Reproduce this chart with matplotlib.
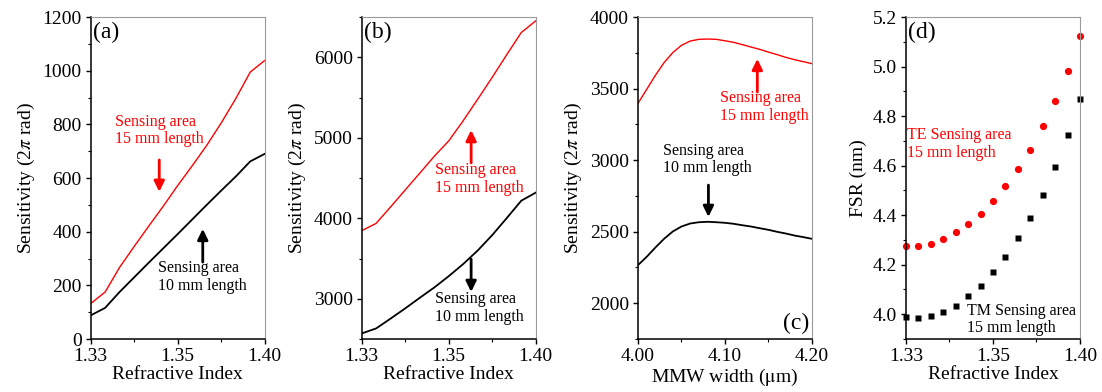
import matplotlib
matplotlib.use("Agg")
import matplotlib.pyplot as plt
from matplotlib.ticker import FixedLocator, MultipleLocator

# refractive index grid for panels (a) and (b)
n_ab = [1.3300, 1.3358, 1.3417, 1.3475, 1.3533, 1.3592, 1.3650,
        1.3708, 1.3767, 1.3825, 1.3883, 1.3942, 1.4000]
# (a) sensitivity, 2pi rad
sens_a_15 = [132, 175, 268, 345, 420, 495, 572, 645, 722, 805, 895, 995, 1038]
sens_a_10 = [88, 116, 176, 230, 284, 338, 391, 445, 500, 553, 605, 662, 690]
# (b) sensitivity, 2pi rad
sens_b_15 = [3845, 3936, 4143, 4351, 4558, 4770, 4960, 5210, 5480, 5750, 6029, 6307, 6452]
sens_b_10 = [2569, 2631, 2755, 2880, 3010, 3140, 3280, 3430, 3600, 3790, 4000, 4218, 4318]

# (c) MMW width (um)
mmw = [4.00, 4.01, 4.02, 4.03, 4.04, 4.05, 4.06, 4.07, 4.08, 4.09, 4.10,
       4.11, 4.12, 4.13, 4.14, 4.15, 4.16, 4.17, 4.18, 4.19, 4.20]
sens_c_15 = [3396, 3494, 3592, 3681, 3751, 3802, 3832, 3844, 3846, 3844, 3834,
             3823, 3807, 3790, 3774, 3755, 3737, 3718, 3702, 3688, 3674]
sens_c_10 = [2266, 2324, 2389, 2450, 2501, 2536, 2557, 2566, 2569, 2566, 2562,
             2555, 2545, 2536, 2524, 2513, 2499, 2487, 2473, 2462, 2450]

# (d) FSR (nm)
n_d = [1.330, 1.335, 1.340, 1.345, 1.350, 1.355, 1.360, 1.365,
       1.370, 1.375, 1.380, 1.385, 1.390, 1.395, 1.400]
fsr_te = [4.275, 4.275, 4.285, 4.302, 4.330, 4.364, 4.406, 4.459,
          4.517, 4.586, 4.665, 4.758, 4.862, 4.982, 5.122]
fsr_tm = [3.988, 3.984, 3.992, 4.008, 4.035, 4.072, 4.116, 4.170,
          4.232, 4.306, 4.389, 4.483, 4.596, 4.723, 4.868]

n_ticks = [1.33, 1.365, 1.40]
n_ticklabels = ['1.33', '1.35', '1.40']

plt.rcParams['font.family'] = ['Liberation Serif', 'DejaVu Serif']
plt.rcParams['mathtext.fontset'] = 'stix'
plt.rcParams['font.size'] = 14

fig = plt.figure(figsize=(11.02, 3.92), dpi=100)
lefts = [0.0823, 0.3282, 0.5789, 0.8221]
axs = [fig.add_axes([l, 0.1352, 0.1579, 0.8214]) for l in lefts]

red = '#ff0000'
ann = dict(fontsize=11.5, va='top', ha='left', linespacing=1.15)


def style(ax):
    for s in ['top', 'right']:
        ax.spines[s].set_color('#9a9a9a')
        ax.spines[s].set_linewidth(0.8)
    for s in ['left', 'bottom']:
        ax.spines[s].set_linewidth(1.1)
    ax.tick_params(which='major', direction='out', length=3.5, width=1, labelsize=14, pad=3)
    ax.tick_params(which='minor', direction='out', length=2, width=0.8)


def arrow(ax, x, y0, y1, color):
    ax.annotate('', xy=(x, y1), xytext=(x, y0), xycoords='axes fraction',
                arrowprops=dict(arrowstyle='-|>,head_length=0.45,head_width=0.22',
                                color=color, lw=2, shrinkA=0, shrinkB=0))


def n_axis(ax):
    ax.set_xlim(1.33, 1.40)
    ax.xaxis.set_major_locator(FixedLocator(n_ticks))
    ax.set_xticklabels(n_ticklabels)
    ax.xaxis.set_minor_locator(FixedLocator([1.3475, 1.3825]))
    ax.set_xlabel('Refractive Index', labelpad=1)


# (a)
ax = axs[0]
ax.plot(n_ab, sens_a_15, color=red, lw=1.0)
ax.plot(n_ab, sens_a_10, color='black', lw=1.3)
ax.set_ylim(0, 1200)
ax.yaxis.set_major_locator(MultipleLocator(200))
ax.yaxis.set_minor_locator(MultipleLocator(100))
n_axis(ax)
ax.set_ylabel(r'Sensitivity (2$\pi$ rad)')
ax.text(0.139, 0.70, 'Sensing area\n15 mm length', color=red, transform=ax.transAxes, **ann)
arrow(ax, 0.394, 0.556, 0.457, red)
arrow(ax, 0.644, 0.239, 0.342, 'black')
ax.text(0.386, 0.245, 'Sensing area\n10 mm length', color='black', transform=ax.transAxes, **ann)
ax.text(0.015, 0.985, '(a)', fontsize=17, transform=ax.transAxes, va='top', ha='left')
style(ax)

# (b)
ax = axs[1]
ax.plot(n_ab, sens_b_15, color=red, lw=1.0)
ax.plot(n_ab, sens_b_10, color='black', lw=1.3)
ax.set_ylim(2500, 6500)
ax.yaxis.set_major_locator(MultipleLocator(1000))
ax.yaxis.set_minor_locator(MultipleLocator(500))
n_axis(ax)
ax.set_ylabel(r'Sensitivity (2$\pi$ rad)')
ax.text(0.420, 0.55, 'Sensing area\n15 mm length', color=red, transform=ax.transAxes, **ann)
arrow(ax, 0.629, 0.547, 0.649, red)
arrow(ax, 0.629, 0.248, 0.146, 'black')
ax.text(0.420, 0.15, 'Sensing area\n10 mm length', color='black', transform=ax.transAxes, **ann)
ax.text(0.012, 0.985, '(b)', fontsize=17, transform=ax.transAxes, va='top', ha='left')
style(ax)

# (c)
ax = axs[2]
ax.plot(mmw, sens_c_15, color=red, lw=1.0)
ax.plot(mmw, sens_c_10, color='black', lw=1.3)
ax.set_xlim(4.0, 4.2)
ax.set_ylim(1750, 4000)
ax.xaxis.set_major_locator(MultipleLocator(0.1))
ax.xaxis.set_minor_locator(MultipleLocator(0.05))
ax.xaxis.set_major_formatter(plt.FormatStrFormatter('%.2f'))
ax.yaxis.set_major_locator(MultipleLocator(500))
ax.yaxis.set_minor_locator(MultipleLocator(250))
ax.set_xlabel(r'MMW width ($\mathrm{\mu}$m)', labelpad=1)
ax.set_ylabel(r'Sensitivity (2$\pi$ rad)')
ax.text(0.474, 0.772, 'Sensing area\n15 mm length', color=red, transform=ax.transAxes, **ann)
arrow(ax, 0.686, 0.767, 0.870, red)
ax.text(0.145, 0.610, 'Sensing area\n10 mm length', color='black', transform=ax.transAxes, **ann)
arrow(ax, 0.405, 0.478, 0.379, 'black')
ax.text(0.985, 0.015, '(c)', fontsize=17, transform=ax.transAxes, va='bottom', ha='right')
style(ax)

# (d)
ax = axs[3]
ax.plot(n_d, fsr_te, 'o', color=red, ms=5.2, mec='none', clip_on=False)
ax.plot(n_d, fsr_tm, 's', color='black', ms=4.0, mec='none', clip_on=False)
ax.set_ylim(3.9, 5.2)
ax.yaxis.set_major_locator(MultipleLocator(0.2))
ax.yaxis.set_minor_locator(MultipleLocator(0.1))
ax.yaxis.set_major_formatter(plt.FormatStrFormatter('%.1f'))
n_axis(ax)
ax.set_ylabel('FSR (nm)')
ax.text(0.006, 0.657, 'TE Sensing area\n15 mm length', color=red, transform=ax.transAxes, **ann)
ax.text(0.353, 0.113, 'TM Sensing area\n15 mm length', color='black', transform=ax.transAxes, **ann)
ax.text(0.012, 0.985, '(d)', fontsize=17, transform=ax.transAxes, va='top', ha='left')
style(ax)

fig.savefig('out.png', dpi=100)
